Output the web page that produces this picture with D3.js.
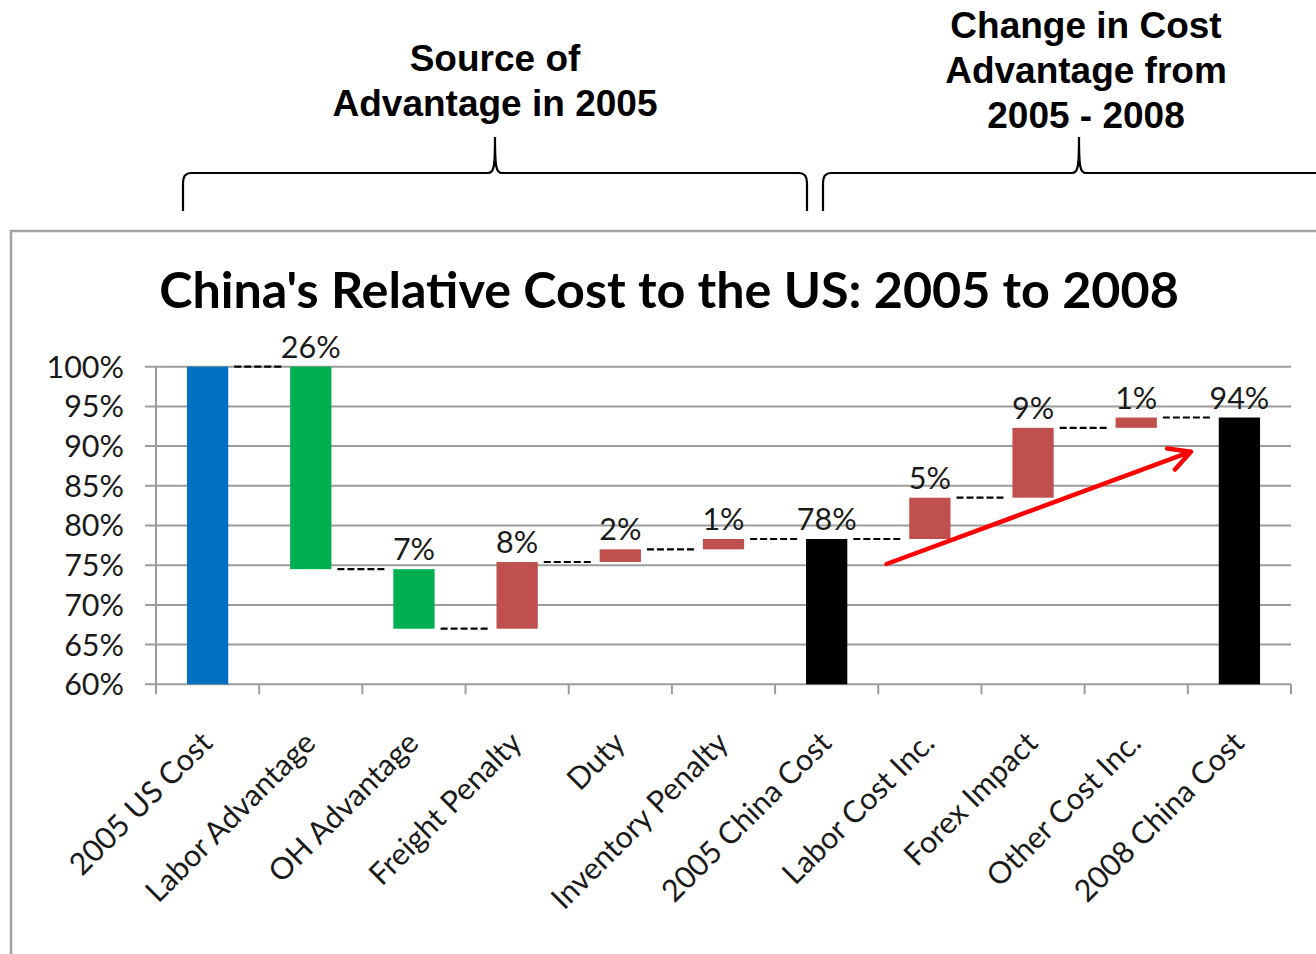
<!DOCTYPE html>
<html>
<head>
<meta charset="utf-8">
<script src="https://cdn.jsdelivr.net/npm/d3@7"></script>
<style>
  html, body { margin: 0; padding: 0; background: #fff; }
  svg { display: block; }
</style>
</head>
<body>
<svg id="chart" width="1316" height="954"></svg>
<script>
// ---------------- DATA ----------------
const categories = ["2005 US Cost", "Labor Advantage", "OH Advantage", "Freight Penalty", "Duty",
  "Inventory Penalty", "2005 China Cost", "Labor Cost Inc.", "Forex Impact", "Other Cost Inc.", "2008 China Cost"];
// totals are absolute levels, other entries are changes (percent of 2005 US cost)
const values = [100, -25.5, -7.5, 8.4, 1.6, 1.3, 78.3, 5.2, 8.8, 1.3, 93.6];
const kinds = ["usTotal", "decrease", "decrease", "increase", "increase", "increase",
  "chinaTotal", "increase", "increase", "increase", "chinaTotal"];
const valueLabels = ["", "26%", "7%", "8%", "2%", "1%", "78%", "5%", "9%", "1%", "94%"];
const yTicks = [60, 65, 70, 75, 80, 85, 90, 95, 100];
const yDomain = [60, 100];
const chartTitle = "China's Relative Cost to the US: 2005 to 2008";
const leftNote = ["Source of", "Advantage in 2005"];
const rightNote = ["Change in Cost", "Advantage from", "2005 - 2008"];
// trend arrow: [category, fraction across its slot, value]
const arrowFrom = ["Labor Cost Inc.", 0.08, 75.15];
const arrowTo = ["2008 China Cost", 0.03, 89.3];

// ---------------- STYLE ----------------
const colorOf = { usTotal: "#0070C0", decrease: "#00B050", increase: "#C0504D", chinaTotal: "#000000" };
const labelFont = "Lato, 'Open Sans', sans-serif";
const noteFont = "'Liberation Sans', Arial, sans-serif";
const labelSize = 30.5;

const svg = d3.select("#chart");

// chart frame
svg.append("rect").attr("x", 11).attr("y", 231).attr("width", 1400).attr("height", 900)
  .attr("fill", "none").attr("stroke", "#a3a3a3").attr("stroke-width", 2.5);

// scales
const x = d3.scaleBand().domain(categories).range([156, 1291]).paddingInner(0.6).paddingOuter(0.3);
const y = d3.scaleLinear().domain(yDomain).range([684.3, 366.7]);
const step = x.step();
const slotStart = c => x(c) - (step - x.bandwidth()) / 2;

// waterfall layout
let running = 0;
const bars = categories.map((c, i) => {
  let start, end;
  if (kinds[i].endsWith("Total")) { start = yDomain[0]; end = values[i]; running = values[i]; }
  else { start = running; end = running + values[i]; running = end; }
  return { cat: c, kind: kinds[i], start, end, level: running, label: valueLabels[i] };
});

// gridlines
svg.append("g").selectAll("line").data(yTicks).join("line")
  .attr("x1", 145).attr("x2", 1291)
  .attr("y1", d => y(d)).attr("y2", d => y(d))
  .attr("stroke", "#9c9c9c").attr("stroke-width", 2);

// y axis line
svg.append("line").attr("x1", 156).attr("x2", 156).attr("y1", y(100)).attr("y2", y(60) + 1)
  .attr("stroke", "#9c9c9c").attr("stroke-width", 2);

// x tick marks at slot boundaries
const bounds = d3.range(categories.length + 1).map(i => x.range()[0] + i * step);
svg.append("g").selectAll("line").data(bounds).join("line")
  .attr("x1", d => d).attr("x2", d => d).attr("y1", y(60)).attr("y2", y(60) + 10)
  .attr("stroke", "#9c9c9c").attr("stroke-width", 2);

// y tick labels
svg.append("g").selectAll("text").data(yTicks).join("text")
  .attr("x", 124).attr("y", d => y(d)).attr("dy", "0.36em")
  .attr("text-anchor", "end").attr("font-family", labelFont).attr("font-size", labelSize)
  .attr("fill", "#1a1a1a").text(d => d + "%");

// x tick labels rotated
svg.append("g").selectAll("text").data(categories).join("text")
  .attr("transform", d => `translate(${x(d) + x.bandwidth() / 2 - 1},${y(60) + 53}) rotate(-45)`)
  .attr("text-anchor", "end").attr("dy", "0.35em")
  .attr("font-family", labelFont).attr("font-size", labelSize).attr("fill", "#1a1a1a")
  .text(d => d);

// bars
svg.append("g").selectAll("rect").data(bars).join("rect")
  .attr("x", d => x(d.cat)).attr("width", x.bandwidth())
  .attr("y", d => y(Math.max(d.start, d.end)))
  .attr("height", d => Math.abs(y(d.start) - y(d.end)))
  .attr("fill", d => colorOf[d.kind]);

// dashed connectors
const conn = bars.slice(0, -1).map((b, i) => ({ from: b, to: bars[i + 1] }));
svg.append("g").selectAll("line").data(conn).join("line")
  .attr("x1", d => x(d.from.cat) + x.bandwidth() + 6)
  .attr("x2", d => x(d.to.cat) - 7)
  .attr("y1", d => y(d.from.level)).attr("y2", d => y(d.from.level))
  .attr("stroke", "#000").attr("stroke-width", 2.2).attr("stroke-dasharray", "7,3");

// value labels
svg.append("g").selectAll("text").data(bars.filter(b => b.label)).join("text")
  .attr("x", d => x(d.cat) + x.bandwidth() / 2)
  .attr("y", d => y(Math.max(d.start, d.end)) - 9)
  .attr("text-anchor", "middle").attr("font-family", labelFont).attr("font-size", labelSize)
  .attr("fill", "#1a1a1a").text(d => d.label);

// red trend arrow
const ax1 = slotStart(arrowFrom[0]) + arrowFrom[1] * step, ay1 = y(arrowFrom[2]);
const ax2 = slotStart(arrowTo[0]) + arrowTo[1] * step, ay2 = y(arrowTo[2]);
const ang = Math.atan2(ay2 - ay1, ax2 - ax1);
const wing = 24, wAng = 28 * Math.PI / 180;
const w1 = [ax2 - wing * Math.cos(ang - wAng), ay2 - wing * Math.sin(ang - wAng)];
const w2 = [ax2 - wing * Math.cos(ang + wAng), ay2 - wing * Math.sin(ang + wAng)];
svg.append("path")
  .attr("d", `M${ax1},${ay1}L${ax2},${ay2}M${w1[0]},${w1[1]}L${ax2},${ay2}L${w2[0]},${w2[1]}`)
  .attr("fill", "none").attr("stroke", "#FF0000").attr("stroke-width", 4.5)
  .attr("stroke-linecap", "round").attr("stroke-linejoin", "round");

// title
const title = svg.append("text").attr("x", 669).attr("y", 308).attr("text-anchor", "middle")
  .attr("font-family", labelFont).attr("font-weight", 700).attr("font-size", 46)
  .attr("fill", "#000").text(chartTitle);
const tl = title.node().getComputedTextLength();
title.attr("font-size", 46 * 1020 / tl);

// annotation notes
svg.append("g").selectAll("text").data(leftNote).join("text")
  .attr("x", 495).attr("y", (d, i) => 71 + i * 45).attr("text-anchor", "middle")
  .attr("font-family", noteFont).attr("font-weight", 700).attr("font-size", 37)
  .attr("fill", "#000").text(d => d);
svg.append("g").selectAll("text").data(rightNote).join("text")
  .attr("x", 1086).attr("y", (d, i) => 38 + i * 45).attr("text-anchor", "middle")
  .attr("font-family", noteFont).attr("font-weight", 700).attr("font-size", 37)
  .attr("fill", "#000").text(d => d);

// braces
function brace(xl, xm, xr, yb, yh, yp, openRight) {
  let p = `M${xl},${yb}L${xl},${yh + 10}Q${xl},${yh} ${xl + 8},${yh}`;
  p += `L${xm - 7},${yh}C${xm - 1},${yh} ${xm},${yh - 6} ${xm},${yp}`;
  p += `C${xm},${yh - 6} ${xm + 1},${yh} ${xm + 7},${yh}`;
  if (openRight) p += `L${xr},${yh}`;
  else p += `L${xr - 8},${yh}Q${xr},${yh} ${xr},${yh + 10}L${xr},${yb}`;
  return p;
}
svg.append("path").attr("d", brace(183, 495, 807, 211, 173, 137, false))
  .attr("fill", "none").attr("stroke", "#000").attr("stroke-width", 2.2);
svg.append("path").attr("d", brace(823, 1079, 1330, 211, 173, 137, true))
  .attr("fill", "none").attr("stroke", "#000").attr("stroke-width", 2.2);
</script>
</body>
</html>
